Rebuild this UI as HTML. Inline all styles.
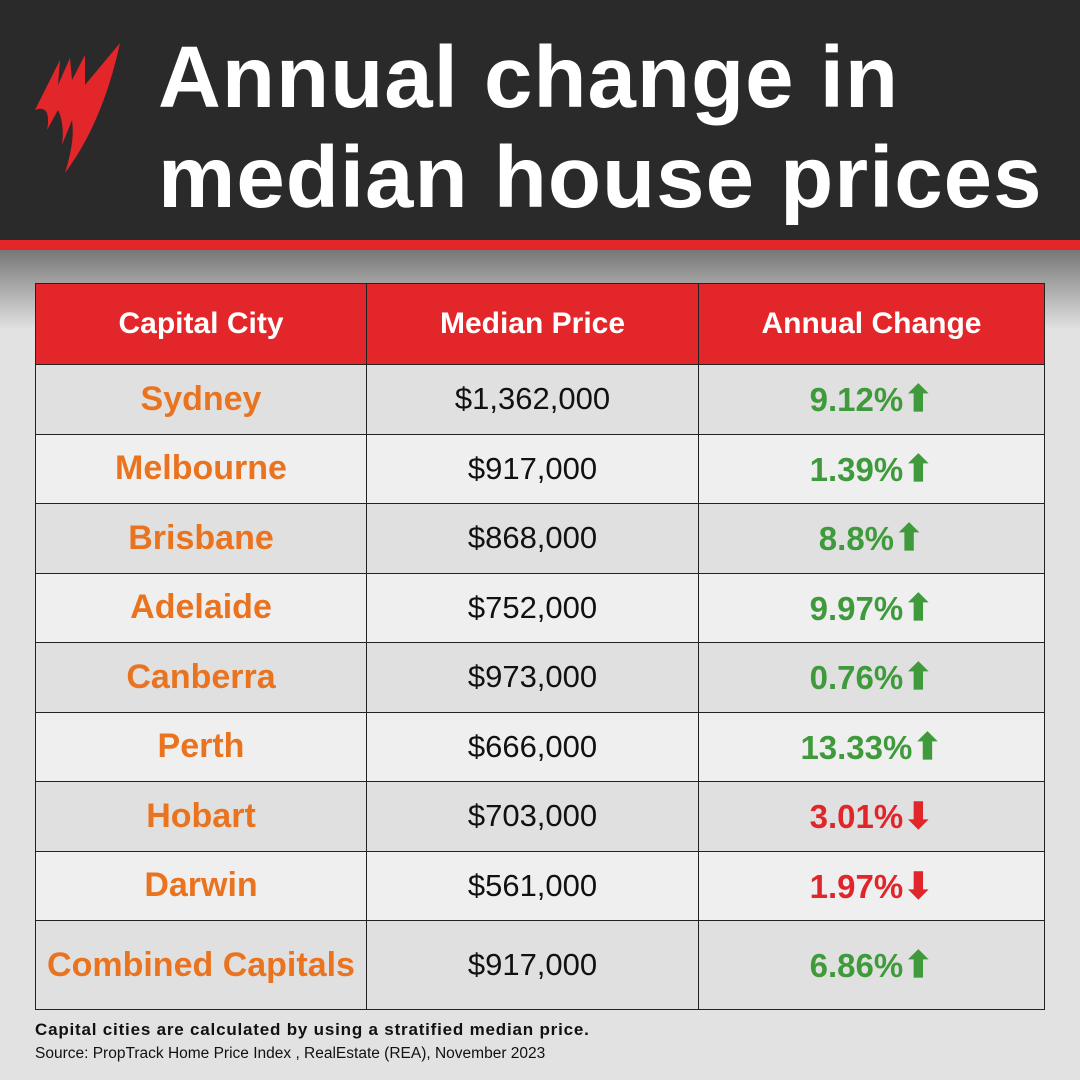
<!DOCTYPE html>
<html><head><style>
body{margin:0;width:1080px;height:1080px;overflow:hidden;font-family:"Liberation Sans",sans-serif;background:#e2e2e2;position:relative}
.hd{position:absolute;left:0;top:0;width:1080px;height:240px;background:#2a2a2a}
.rs{position:absolute;left:0;top:240px;width:1080px;height:10px;background:#e2262a}
.gr{position:absolute;left:0;top:250px;width:1080px;height:80px;background:linear-gradient(#777,#e2e2e2)}
.t{position:absolute;left:158px;color:#fff;font-weight:bold;font-size:87px;letter-spacing:1px;white-space:nowrap}
table{position:absolute;left:35px;top:283px;width:1010px;border-collapse:collapse}
td,th{border:1.5px solid #222;text-align:center;padding:0;font-size:29px}
th{background:#e2262a;color:#fff;height:80px;font-size:30px}
td{height:68.5px}
tr:nth-child(even) td{background:#e0e0e0}
tr:nth-child(odd) td{background:#efefef}
td.c{color:#ea7320;font-weight:bold;font-size:34px}
td.g{color:#3e9a3a;font-weight:bold;font-size:33px}
td.r{color:#e0262a;font-weight:bold;font-size:33px}
td.p{color:#111;font-size:31px}
.a{font-size:36px}
.f{position:absolute;left:35px;font-size:17px;color:#111}
</style></head><body>
<div class="hd"></div><div class="rs"></div><div class="gr"></div>
<svg style="position:absolute;left:30px;top:40px" width="95" height="135" viewBox="0 0 95 135">
<path fill="#e2262a" d="M90 3 C82 40 67 90 35 133 C42 110 44 95 42 80 L32 105 C34 90 32 78 28 70 L17 90 C20 75 17 65 5 70 L30 20 L28 45 L40 18 L42 40 L55 15 L55 45 Z"/>
</svg>
<div class="t" style="top:28px">Annual change in</div>
<div class="t" style="top:128px">median house prices</div>
<table>
<tr><th style="width:330px">Capital City</th><th style="width:331px">Median Price</th><th>Annual Change</th></tr>
<tr><td class="c">Sydney</td><td class="p">$1,362,000</td><td class="g">9.12%<span class="a">⬆</span></td></tr>
<tr><td class="c">Melbourne</td><td class="p">$917,000</td><td class="g">1.39%<span class="a">⬆</span></td></tr>
<tr><td class="c">Brisbane</td><td class="p">$868,000</td><td class="g">8.8%<span class="a">⬆</span></td></tr>
<tr><td class="c">Adelaide</td><td class="p">$752,000</td><td class="g">9.97%<span class="a">⬆</span></td></tr>
<tr><td class="c">Canberra</td><td class="p">$973,000</td><td class="g">0.76%<span class="a">⬆</span></td></tr>
<tr><td class="c">Perth</td><td class="p">$666,000</td><td class="g">13.33%<span class="a">⬆</span></td></tr>
<tr><td class="c">Hobart</td><td class="p">$703,000</td><td class="r">3.01%<span class="a">⬇</span></td></tr>
<tr><td class="c">Darwin</td><td class="p">$561,000</td><td class="r">1.97%<span class="a">⬇</span></td></tr>
<tr><td class="c" style="height:88px">Combined Capitals</td><td class="p">$917,000</td><td class="g">6.86%<span class="a">⬆</span></td></tr>
</table>
<div class="f" style="top:1020px;font-weight:bold;letter-spacing:0.8px">Capital cities are calculated by using a stratified median price.</div>
<div class="f" style="top:1045px;font-size:15.5px">Source: PropTrack Home Price Index , RealEstate (REA), November 2023</div>
</body></html>
